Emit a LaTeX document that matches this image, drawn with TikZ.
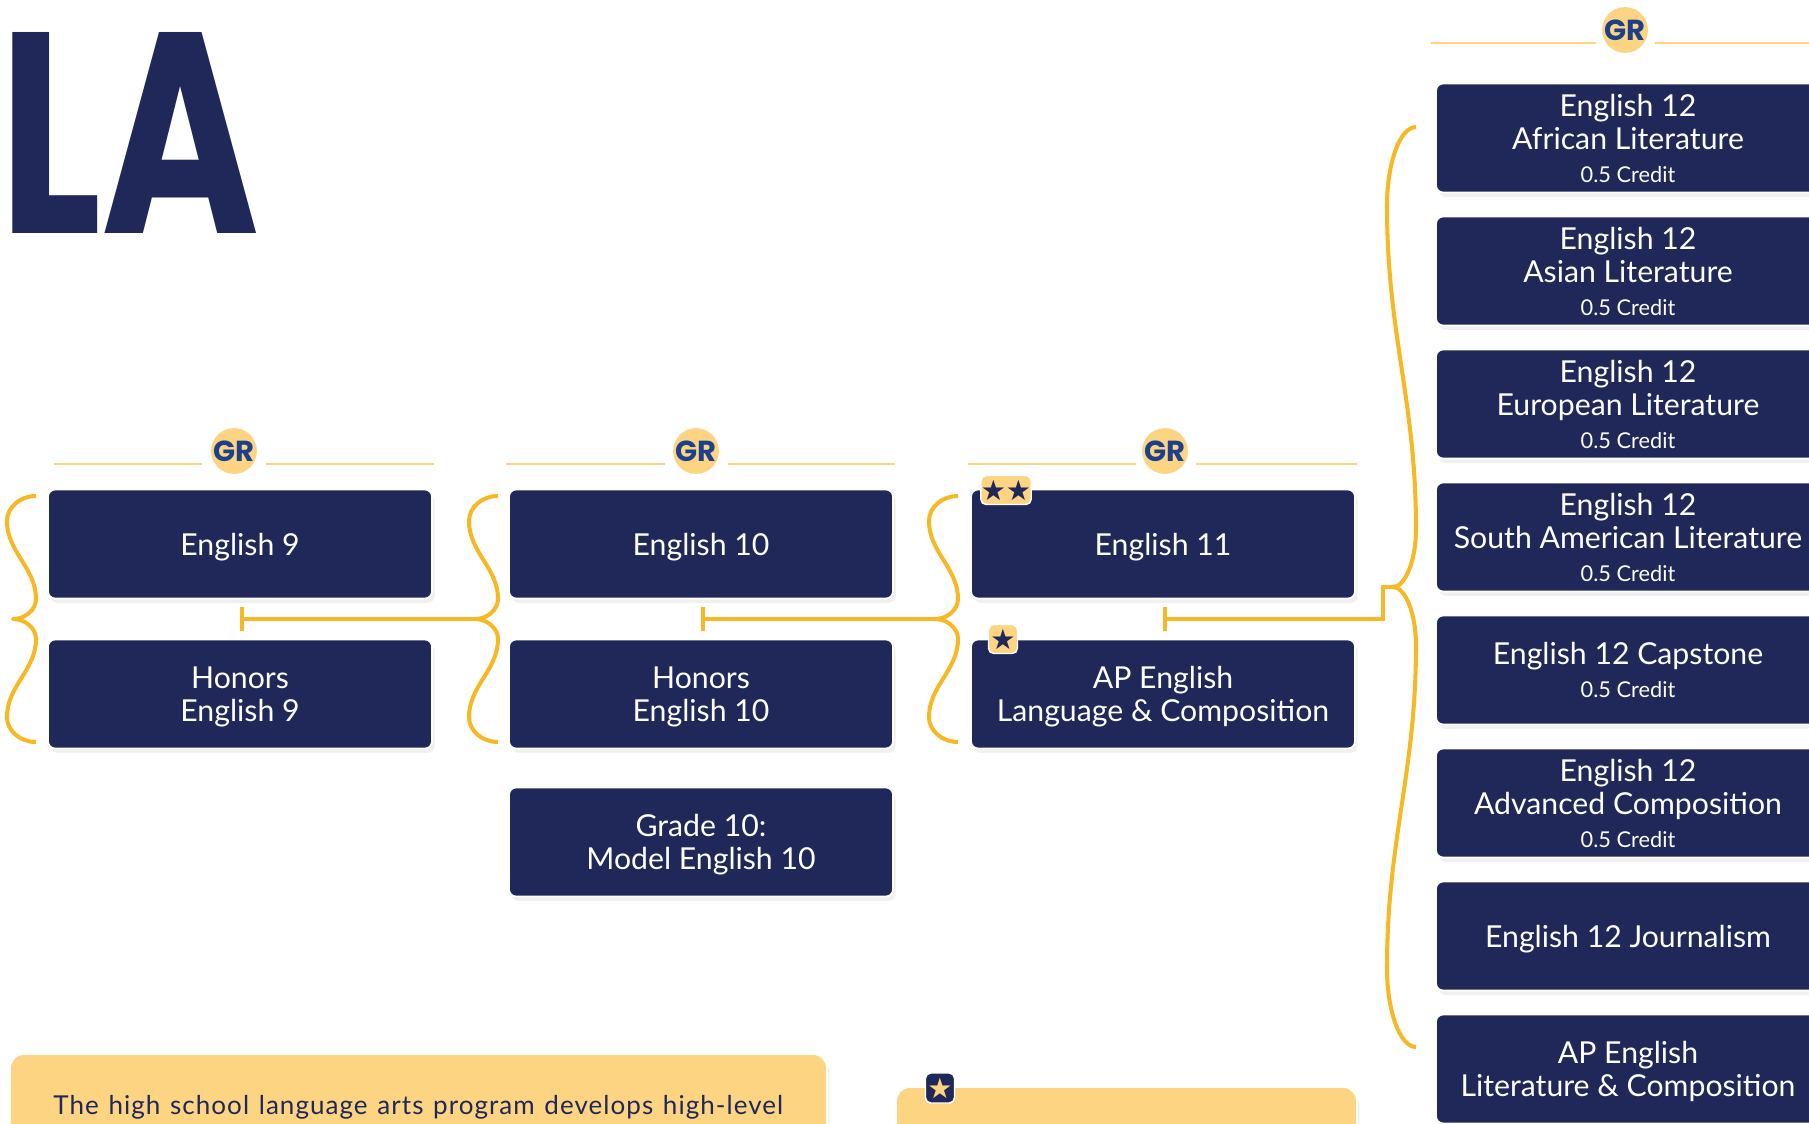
\documentclass[tikz,border=0pt]{standalone}
\usepackage{fontspec}
\setmainfont{Lato}
\newfontfamily\grfont{Poppins}
\newfontfamily\titlefont{Poppins}[FakeStretch=0.75]
\newfontfamily\notefont{Lato}[LetterSpace=4]
\newfontfamily\symfont{DejaVu Sans}
\usetikzlibrary{arrows.meta,calc,shadows}
\definecolor{navy}{RGB}{31,40,88}
\definecolor{gold}{RGB}{247,184,38}
\definecolor{lightgold}{RGB}{253,213,130}
\definecolor{grblue}{RGB}{30,64,140}
\newcommand{\halfcredit}{{\fontsize{12.4}{14}\selectfont 0.5 Credit}}

\tikzset{
  course/.style={rectangle, rounded corners=4pt, fill=navy, draw=white, line width=1pt,
    text=white, align=center, minimum width=7.68cm, minimum height=2.18cm, inner sep=0pt,
    text depth=0pt, font=\fontsize{17.2}{18.8}\selectfont,
    drop shadow={shadow xshift=1.5pt, shadow yshift=-2.5pt, opacity=0.12}},
  grade/.style={circle, fill=lightgold, text=grblue, minimum size=0.9cm, inner sep=0pt,
    font=\grfont\bfseries\fontsize{16.5}{16.5}\selectfont},
  gradeline/.style={lightgold, line width=1.3pt},
  badge/.style={rectangle, rounded corners=3pt, fill=lightgold, draw=white, line width=0.8pt,
    text=navy, minimum height=0.58cm, inner sep=0pt, font=\symfont\fontsize{16}{16}\selectfont},
  link/.style={gold, line width=2.3pt, {Bar[width=14pt]}-},
  curlyline/.style={gold, line width=2.3pt, line join=round},
  infobox/.style={fill=lightgold, draw=white, line width=1pt, rounded corners=8pt,
    drop shadow={shadow xshift=1.5pt, shadow yshift=-2.5pt, opacity=0.1}},
  pics/curly/.style n args={3}{code={
    \pgfmathsetmacro\brH{#1}\pgfmathsetmacro\brA{#2}\pgfmathsetmacro\brB{#3}
    \pgfmathsetmacro\brD{0.4*(\brH-\brA-\brB)}
    \draw[curlyline] (23,-\brH) .. controls (7,-\brH) and (-6,-\brH+0.45*\brA) .. (-6,-\brH+\brA)
      .. controls (-6,-\brH+\brA+\brD) and (23,-\brB-\brD) .. (23,-\brB)
      .. controls (23,-0.45*\brB) and (12,0) .. (0,0)
      .. controls (12,0) and (23,0.45*\brB) .. (23,\brB)
      .. controls (23,\brB+\brD) and (-6,\brH-\brA-\brD) .. (-6,\brH-\brA)
      .. controls (-6,\brH-0.45*\brA) and (7,\brH) .. (23,\brH);
  }}
}

\begin{document}
\begin{tikzpicture}[x=0.02cm, y=-0.02cm]
	\useasboundingbox (0,0) rectangle (1809,1123);
	% title
	\node[anchor=base west, inner sep=0, text=navy, font=\titlefont\bfseries\fontsize{163}{163}\selectfont] (title) at (-1,233) {LA};

	% grade headers
	\draw[gradeline] (54,464) -- (202,464);
	\draw[gradeline] (266,464) -- (434,464);
	\draw[gradeline] (506,464) -- (665,464);
	\draw[gradeline] (728,464) -- (895,464);
	\draw[gradeline] (968,464) -- (1136,464);
	\draw[gradeline] (1196,464) -- (1357,464);
	\draw[gradeline] (1431,43) -- (1596,43);
	\draw[gradeline] (1655,43) -- (1809,43);
	\node[grade] (gr9) at (234,451) {GR};
	\node[grade] (gr10) at (696,451) {GR};
	\node[grade] (gr11) at (1165,451) {GR};
	\node[grade] (gr12) at (1625,30) {GR};

	% courses
	\node[course] (e9) at (240,544) {English 9};
	\node[course] (h9) at (240,694) {Honors\\English 9};
	\node[course] (e10) at (701,544) {English 10};
	\node[course] (h10) at (701,694) {Honors\\English 10};
	\node[course] (m10) at (701,842) {Grade 10:\\Model English 10};
	\node[course] (e11) at (1163,544) {English 11};
	\node[course] (ap11) at (1163,694) {AP English\\Language \& Composition};
	\node[course] (afr) at (1628,138) {English 12\\African Literature\\\halfcredit};
	\node[course] (asia) at (1628,271) {English 12\\Asian Literature\\\halfcredit};
	\node[course] (euro) at (1628,404) {English 12\\European Literature\\\halfcredit};
	\node[course] (samer) at (1628,537) {English 12\\South American Literature\\\halfcredit};
	\node[course] (cap) at (1628,670) {English 12 Capstone\\\halfcredit};
	\node[course] (adv) at (1628,803) {English 12\\Advanced Composition\\\halfcredit};
	\node[course] (jour) at (1628,936) {English 12 Journalism};
	\node[course] (aplit) at (1628,1069) {AP English\\Literature \& Composition};

	\node[badge, minimum width=0.98cm] (st11) at (1006,490) {★★};
	\node[badge, minimum width=0.58cm] (stap) at (1003,639) {★};

	% braces and links
	\pic at (13,619) {curly={123}{25}{20}};
	\coordinate (cusp10) at (475,619);
	\pic at (cusp10) {curly={123}{25}{20}};
	\coordinate (cusp11) at (935,619);
	\pic at (cusp11) {curly={123}{25}{20}};
	\coordinate (cusp12) at (1393,587);
	\pic at (cusp12) {curly={460}{79}{58}};
	\draw[link] ($(e9.south)!.5!(h9.north)$) -- (cusp10);
	\draw[link] ($(e10.south)!.5!(h10.north)$) -- (cusp11);
	\draw[link] ($(e11.south)!.5!(ap11.north)$) -| ($(cusp12)+(-10,0)$) -- (cusp12);

	% notes
	\path[infobox] (10,1054) rectangle (827,1200);
	\node[anchor=base west, inner sep=0, text=navy, font=\notefont\fontsize{14.8}{17}\selectfont] (intro) at (53,1114)
		{\makebox[14.6cm][s]{The high school language arts program develops high-level}};
	\path[infobox] (896,1087) rectangle (1357,1200);
	\node[badge, fill=navy, text=lightgold, minimum width=0.58cm, minimum height=0.6cm] (stnote) at (940,1088) {★};
\end{tikzpicture}
\end{document}
